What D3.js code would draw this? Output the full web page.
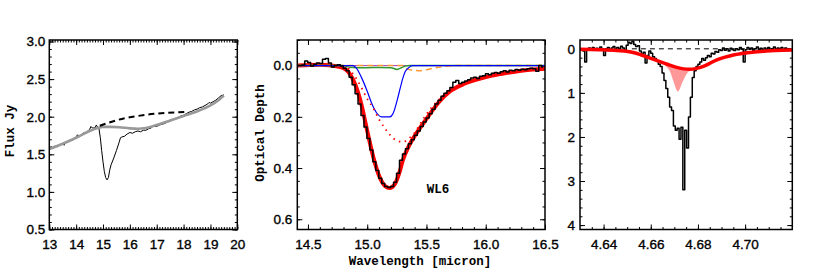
<!DOCTYPE html>
<html>
<head>
<meta charset="utf-8">
<script src="https://cdn.jsdelivr.net/npm/d3@7"></script>
<style>
  body { margin: 0; background: #fff; }
  .lab text { font-family: "Liberation Sans", Arial, sans-serif; font-size: 13.5px; fill: #000; stroke: #000; stroke-width: 0.35px; }
  .title { font-family: "Liberation Mono", "DejaVu Sans Mono", monospace; font-size: 12.5px; font-weight: bold; fill: #000; }
</style>
</head>
<body>
<script>
// tick labels
const fluxTicksX = [13, 14, 15, 16, 17, 18, 19, 20];
const fluxTicksY = [0.5, 1.0, 1.5, 2.0, 2.5, 3.0];
const tauTicksX = [14.5, 15.0, 15.5, 16.0, 16.5];
const tauTicksY = [0.0, 0.2, 0.4, 0.6];
const coTicksX = [4.64, 4.66, 4.68, 4.70];
const coTicksY = [0, 1, 2, 3, 4];

// panneau gauche : spectre en Jy
const fluxObs = [[13.0,1.59],[13.1,1.60],[13.15,1.58],[13.2,1.61],[13.3,1.60],[13.4,1.63],[13.5,1.64],[13.55,1.62],[13.6,1.66],[13.7,1.67],
  [13.8,1.70],[13.85,1.68],[13.9,1.71],[14.0,1.73],[14.05,1.76],[14.1,1.74],[14.2,1.76],[14.3,1.79],[14.35,1.77],[14.4,1.80],
  [14.5,1.83],[14.55,1.87],[14.6,1.85],[14.7,1.85],[14.75,1.89],[14.8,1.86],[14.85,1.84],[14.9,1.72],[14.95,1.55],[15.0,1.40],
  [15.05,1.27],[15.1,1.19],[15.15,1.16],[15.2,1.19],[15.25,1.29],[15.3,1.36],[15.4,1.45],[15.5,1.55],[15.6,1.66],[15.65,1.72],
  [15.7,1.73],[15.8,1.74],[15.9,1.77],[16.0,1.79],[16.1,1.78],[16.2,1.80],[16.3,1.81],[16.4,1.80],[16.5,1.82],[16.6,1.82],
  [16.7,1.84],[16.8,1.85],[16.85,1.88],[16.9,1.87],[17.0,1.87],[17.1,1.89],[17.2,1.90],[17.3,1.91],[17.4,1.93],[17.5,1.94],
  [17.6,1.96],[17.7,1.97],[17.8,1.99],[17.9,2.01],[18.0,2.02],[18.1,2.04],[18.2,2.06],[18.3,2.07],[18.4,2.09],[18.5,2.10],
  [18.6,2.12],[18.7,2.13],[18.8,2.15],[18.9,2.17],[18.95,2.19],[19.0,2.18],[19.1,2.20],[19.2,2.22],[19.3,2.25],[19.4,2.28],[19.5,2.29]];
const fluxModel = [[13.0,1.57],[13.5,1.64],[14.0,1.72],[14.5,1.81],[14.8,1.85],[15.0,1.865],[15.3,1.865],[15.6,1.86],[16.0,1.845],
  [16.3,1.84],[16.6,1.85],[17.0,1.89],[17.5,1.95],[18.0,2.01],[18.5,2.07],[19.0,2.15],[19.3,2.22],[19.5,2.28]];
const fluxCont = [[14.88,1.88],[15.3,1.93],[15.8,1.98],[16.3,2.01],[16.8,2.035],[17.3,2.05],[17.8,2.06],[18.1,2.065]];

// panneau central : profondeur optique (spectre en histogramme)
const tauStart = 14.41, tauStep = 0.025;
const tauObs = [0.000,0.000,-0.002,-0.018,-0.012,0.002,-0.005,-0.010,-0.008,-0.025,
  -0.028,-0.010,0.005,0.000,-0.003,0.002,0.010,0.020,0.045,0.075,
  0.110,0.150,0.195,0.240,0.285,0.330,0.375,0.410,0.440,0.460,
  0.472,0.476,0.472,0.455,0.420,0.370,0.345,0.325,0.305,0.290,
  0.272,0.255,0.238,0.220,0.205,0.188,0.170,0.150,0.135,0.120,
  0.108,0.098,0.085,0.065,0.058,0.070,0.065,0.060,0.055,0.048,
  0.045,0.050,0.042,0.040,0.032,0.036,0.030,0.027,0.030,0.024,
  0.020,0.025,0.018,0.020,0.015,0.018,0.014,0.016,0.012,0.010,
  0.012,0.022,0.000,0.005];
const tauFit = [[14.41,0.0],[14.6,-0.003],[14.7,0.0],[14.8,0.01],[14.85,0.03],[14.9,0.075],[14.95,0.15],[15.0,0.255],[15.05,0.355],
  [15.1,0.43],[15.15,0.47],[15.19,0.478],[15.23,0.465],[15.27,0.42],[15.3,0.37],[15.35,0.315],[15.4,0.275],[15.5,0.208],
  [15.6,0.145],[15.7,0.1],[15.8,0.075],[15.9,0.058],[16.0,0.045],[16.1,0.035],[16.2,0.027],[16.3,0.02],[16.4,0.015],[16.5,0.012]];
const tauDotted = [[14.84,0.01],[14.9,0.045],[14.95,0.085],[15.0,0.13],[15.05,0.165],[15.1,0.21],[15.15,0.245],[15.2,0.275],
  [15.25,0.293],[15.3,0.298],[15.35,0.285],[15.4,0.262],[15.45,0.225],[15.5,0.19],[15.55,0.16],[15.6,0.135],[15.65,0.115]];
const tauBlue = [[14.41,0],[14.88,0.0],[14.91,0.011],[14.95,0.045],[15.0,0.1],[15.04,0.15],[15.08,0.185],[15.12,0.2],[15.19,0.2],
  [15.22,0.185],[15.25,0.14],[15.28,0.085],[15.3,0.05],[15.32,0.024],[15.35,0.008],[15.38,0.0],[16.5,0]];
const tauGreen = [[14.41,0],[14.8,0.0],[14.85,0.006],[15.0,0.008],[15.1,0.007],[15.2,0.008],[15.25,0.015],[15.28,0.01],[15.32,0.002],[15.36,0],[16.5,0]];
const tauOrange = [[14.41,0],[15.3,0.0],[15.33,0.011],[15.38,0.018],[15.44,0.02],[15.5,0.016],[15.55,0.011],[15.62,0.005],[15.69,0.002],[15.75,0],[16.5,0]];
const tauPurple = [[14.41,0],[16.5,0]];

// panneau droit : bande CO
const coStart = 4.63, coStep = 0.0008;
const coObs = [0.02,0.00,0.05,0.30,0.03,-0.02,0.01,-0.03,0.02,-0.01,
  0.03,-0.04,0.00,0.15,0.00,-0.03,0.02,-0.02,-0.05,0.01,
  -0.03,0.00,-0.06,-0.02,0.03,-0.08,-0.15,-0.12,-0.17,-0.10,
  -0.05,-0.07,0.05,0.12,0.08,0.32,0.15,0.05,0.10,0.18,
  0.22,0.28,0.35,0.40,0.55,0.72,0.90,1.10,1.32,1.40,
  1.75,1.85,1.80,2.05,1.78,3.20,1.85,2.25,1.55,1.10,
  0.65,0.50,0.40,0.35,0.30,0.22,0.26,0.20,0.15,0.18,
  0.10,0.12,0.06,0.08,0.02,0.04,-0.02,0.03,0.00,0.05,
  -0.01,0.02,0.04,0.00,0.02,-0.03,0.01,0.30,0.02,-0.03,
  0.01,-0.02,0.03,0.00,-0.04,0.02,-0.01,0.03,-0.02,0.01,
  -0.03,0.02,0.00,-0.04,0.03,-0.02,0.01,-0.03,0.02,-0.02,
  0.04,0.00,0.02];
const coFit = [[4.630,0.01],[4.638,0.02],[4.6456,0.04],[4.6526,0.085],[4.656,0.14],[4.6597,0.21],[4.6639,0.29],[4.667,0.35],
  [4.671,0.42],[4.674,0.455],[4.6766,0.465],[4.679,0.45],[4.6823,0.40],[4.685,0.33],[4.688,0.25],[4.6915,0.19],[4.695,0.14],
  [4.698,0.11],[4.702,0.085],[4.709,0.05],[4.716,0.03],[4.72,0.025]];
const pinkX = [4.665,4.6665,4.668,4.6695,4.6715,4.6735,4.6755,4.6775,4.679,4.680];
const pinkTop = [0.31,0.34,0.37,0.40,0.43,0.455,0.465,0.463,0.452,0.44];
const pinkBottom = [0.31,0.40,0.50,0.72,0.97,0.75,0.55,0.47,0.45,0.44];
const coZero = [[4.652,0],[4.72,0]];

const svg = d3.select("body").append("svg")
    .attr("width", 817).attr("height", 272)
    .style("background", "#fff");

const plotTop = 40, plotBottom = 229.5;

function panel(id, x0, x1, x, y, xMajor, xMinor, yMajor, yMinor, fmtX, fmtY, padY) {
    const g = svg.append("g");
    g.append("clipPath").attr("id", id)
        .append("rect").attr("x", x0).attr("y", plotTop).attr("width", x1 - x0).attr("height", plotBottom - plotTop);

    const axes = [
        [d3.axisBottom, `translate(0,${plotBottom})`, x, xMinor, xMajor, fmtX, 10],
        [d3.axisTop, `translate(0,${plotTop})`, x, xMinor, xMajor, null, 0],
        [d3.axisLeft, `translate(${x0},0)`, y, yMinor, yMajor, fmtY, padY],
        [d3.axisRight, `translate(${x1},0)`, y, yMinor, yMajor, null, 0]
    ];
    axes.forEach(([ax, tr, sc, minor, major, fmt, pad]) => {
        g.append("g").attr("transform", tr)
            .call(ax(sc).tickValues(minor).tickSize(-2.5).tickFormat(""));
        g.append("g").attr("transform", tr).attr("class", "lab")
            .call(ax(sc).tickValues(major).tickSize(-5).tickPadding(pad).tickFormat(fmt ? fmt : ""));
    });
    g.selectAll(".domain").remove();
    g.selectAll(".tick line").attr("stroke", "#000").attr("stroke-width", 1);

    const plot = g.append("g").attr("clip-path", `url(#${id})`);
    // cadre dessiné après les courbes
    const frame = () => g.append("rect")
        .attr("x", x0).attr("y", plotTop).attr("width", x1 - x0).attr("height", plotBottom - plotTop)
        .attr("fill", "none").attr("stroke", "#000").attr("stroke-width", 1.5);
    return { plot, frame };
}

function drawLine(layer, data, x, y, color, width, dash, curve) {
    layer.append("path")
        .datum(data)
        .attr("fill", "none")
        .attr("stroke", color)
        .attr("stroke-width", width)
        .attr("stroke-dasharray", dash)
        .attr("stroke-linejoin", "round")
        .attr("d", d3.line().x(d => x(d[0])).y(d => y(d[1])).curve(curve || d3.curveLinear));
}

// ---- gauche
const xF = d3.scaleLinear().domain([13, 20]).range([49.3, 237.3]);
const yF = d3.scaleLinear().domain([0.5, 3.02]).range([plotBottom, plotTop]);
const pF = panel("clipF", 49.3, 237.3, xF, yF, fluxTicksX, d3.range(13, 20.01, 0.1), fluxTicksY, d3.range(0.5, 3.02, 0.1),
    d3.format("d"), d3.format(".1f"), 4);
drawLine(pF.plot, fluxObs, xF, yF, "#000", 1);
drawLine(pF.plot, fluxModel, xF, yF, "#999", 2.6, null, d3.curveMonotoneX);
drawLine(pF.plot, fluxCont, xF, yF, "#000", 2, "6,4", d3.curveMonotoneX);
pF.frame();

// ---- centre
const xT = d3.scaleLinear().domain([14.41, 16.5]).range([297.3, 545]);
const yT = d3.scaleLinear().domain([-0.1, 0.64]).range([plotTop, plotBottom]);
const pT = panel("clipT", 297.3, 545, xT, yT, tauTicksX, d3.range(14.5, 16.51, 0.1), tauTicksY, d3.range(-0.1, 0.64, 0.05),
    d3.format(".1f"), d3.format(".1f"), 5);
const tauHist = tauObs.map((v, i) => [tauStart + i * tauStep, v]);
drawLine(pT.plot, tauPurple, xT, yT, "#a040c0", 1);
drawLine(pT.plot, tauFit, xT, yT, "#ff0000", 4, null, d3.curveMonotoneX);
drawLine(pT.plot, tauGreen, xT, yT, "#339933", 1.5, null, d3.curveMonotoneX);
drawLine(pT.plot, tauOrange, xT, yT, "#ff9933", 1.5, "6,4", d3.curveMonotoneX);
drawLine(pT.plot, tauBlue, xT, yT, "#0000ff", 1.2, null, d3.curveMonotoneX);
drawLine(pT.plot, tauDotted, xT, yT, "#ff0000", 1.8, "1.5,4.5", d3.curveMonotoneX);
drawLine(pT.plot, tauHist, xT, yT, "#000", 1.5, null, d3.curveStep);
pT.frame();

// ---- droite
const xC = d3.scaleLinear().domain([4.63, 4.72]).range([580, 792.3]);
const yC = d3.scaleLinear().domain([-0.2, 4.1]).range([plotTop, plotBottom]);
const pC = panel("clipC", 580, 792.3, xC, yC, coTicksX, d3.range(4.635, 4.72, 0.005), coTicksY, d3.range(0, 4.1, 0.2),
    d3.format(".2f"), d3.format("d"), 5);
const pink = pinkX.map((v, i) => [v, pinkTop[i], pinkBottom[i]]);
pC.plot.append("path")
    .datum(pink)
    .attr("fill", "#ff9999")
    .attr("d", d3.area().x(d => xC(d[0])).y0(d => yC(d[1])).y1(d => yC(d[2])).curve(d3.curveMonotoneX));
drawLine(pC.plot, coZero, xC, yC, "#000", 1, "5,4");
const coSpec = coObs.map((v, i) => [coStart + i * coStep, v]);
drawLine(pC.plot, coSpec, xC, yC, "#000", 1.5, null, d3.curveStep);
drawLine(pC.plot, coFit, xC, yC, "#ff0000", 3.5, null, d3.curveMonotoneX);
pC.frame();

// titres
svg.append("text").attr("class", "title").attr("text-anchor", "middle")
    .attr("transform", "translate(14,131) rotate(-90)").text("Flux Jy");
svg.append("text").attr("class", "title").attr("text-anchor", "middle")
    .attr("transform", "translate(264,133) rotate(-90)").text("Optical Depth");
svg.append("text").attr("class", "title").attr("text-anchor", "middle")
    .attr("x", 420).attr("y", 265).text("Wavelength [micron]");
svg.append("text").attr("class", "title").attr("text-anchor", "middle")
    .attr("x", 438).attr("y", 193).text("WL6");
</script>
</body>
</html>
